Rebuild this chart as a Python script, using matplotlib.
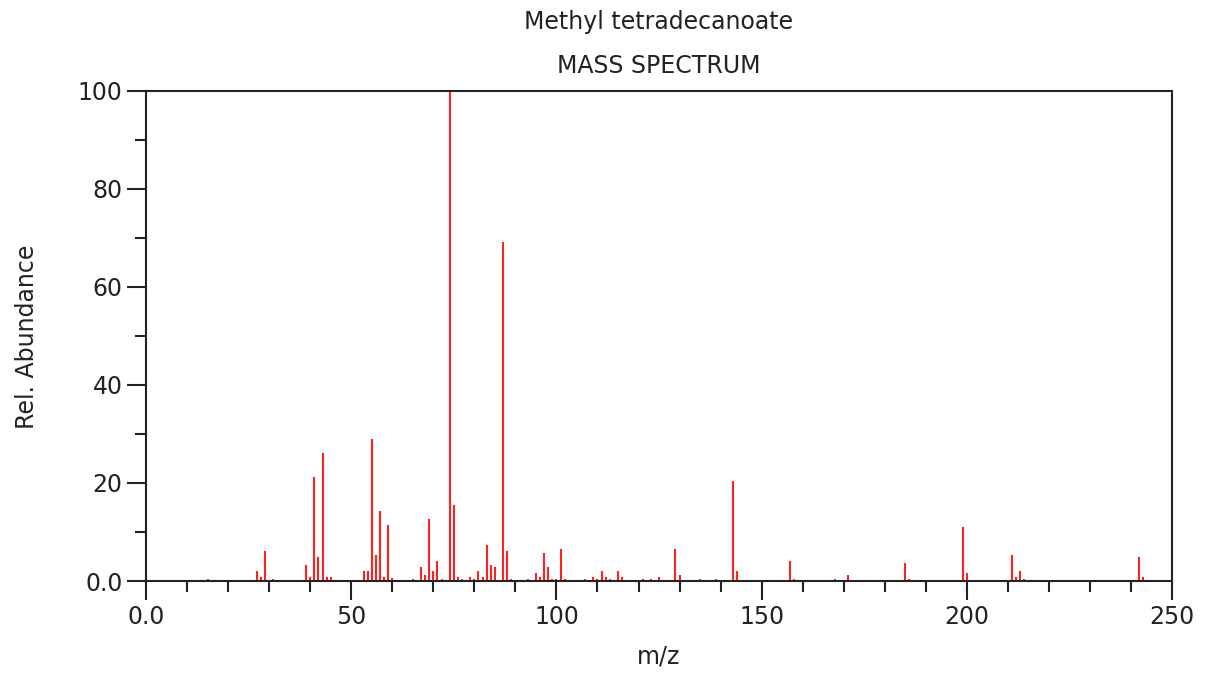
import matplotlib.pyplot as plt
from matplotlib.ticker import MultipleLocator, FuncFormatter

# m/z and relative abundance
mz = [15, 26, 27, 28, 29, 31, 33, 39, 40, 41, 42, 43, 44, 45, 51,
      53, 54, 55, 56, 57, 58, 59, 60, 65, 66, 67, 68, 69, 70, 71, 72,
      74, 75, 76, 77, 78, 79, 80, 81, 82, 83, 84, 85, 87, 88, 89,
      91, 93, 94, 95, 96, 97, 98, 99, 100, 101, 102, 103,
      107, 108, 109, 110, 111, 112, 113, 114, 115, 116, 117,
      121, 122, 123, 124, 125, 126, 127, 129, 130, 131,
      135, 137, 138, 139, 140, 141, 143, 144, 145, 149, 153, 154,
      157, 158, 163, 166, 167, 168, 169, 171, 172, 177, 181,
      185, 186, 187, 191, 192, 199, 200,
      209, 211, 212, 213, 214, 242, 243, 244]
abundance = [0.4, 0.2, 2.1, 0.9, 6.2, 0.5, 0.2, 3.3, 0.9, 21.3, 5.0, 26.2, 0.9, 0.9, 0.3,
             2.1, 2.1, 29.0, 5.4, 14.3, 0.9, 11.5, 0.6, 0.5, 0.2, 2.9, 1.3, 12.7, 2.1, 4.1, 0.5,
             100.0, 15.6, 0.9, 0.5, 0.2, 0.9, 0.5, 2.1, 0.9, 7.4, 3.3, 2.8, 69.2, 6.2, 0.5,
             0.2, 0.5, 0.2, 1.7, 0.9, 5.8, 2.9, 0.5, 0.5, 6.6, 0.5, 0.2,
             0.5, 0.2, 0.9, 0.5, 2.1, 0.9, 0.5, 0.2, 2.1, 0.9, 0.2,
             0.5, 0.2, 0.5, 0.2, 0.9, 0.2, 0.2, 6.6, 1.3, 0.2,
             0.5, 0.2, 0.2, 0.5, 0.2, 0.2, 20.5, 2.1, 0.2, 0.2, 0.2, 0.2,
             4.1, 0.5, 0.2, 0.2, 0.2, 0.5, 0.2, 1.3, 0.2, 0.2, 0.2,
             3.7, 0.5, 0.2, 0.2, 0.2, 11.1, 1.7,
             0.2, 5.4, 0.9, 2.1, 0.5, 5.0, 0.9, 0.2]

txt = '#222222'
fs = 17

fig = plt.figure(figsize=(12.13, 6.73), dpi=100)
ax = fig.add_axes([0.1204, 0.1367, 0.8458, 0.7281])

ax.vlines(mz, 0, abundance, color='#ff2020', linewidth=1.5)

ax.set_xlim(0, 250)
ax.set_ylim(0, 100)

ax.xaxis.set_major_locator(MultipleLocator(50))
ax.xaxis.set_minor_locator(MultipleLocator(10))
ax.yaxis.set_major_locator(MultipleLocator(20))
ax.yaxis.set_minor_locator(MultipleLocator(10))
fmt = FuncFormatter(lambda v, p: '0.0' if v == 0 else '%d' % v)
ax.xaxis.set_major_formatter(fmt)
ax.yaxis.set_major_formatter(fmt)

ax.tick_params(which='major', direction='out', length=14, width=1.5, labelsize=fs,
               colors=txt, pad=3)
ax.tick_params(which='minor', direction='out', length=8, width=1.5, colors=txt)
for s in ax.spines.values():
    s.set_linewidth(1.5)
    s.set_color(txt)

fig.text(0.5433, 0.0238, 'm/z', fontsize=fs, color=txt, ha='center', va='center')
fig.text(0.0223, 0.5, 'Rel. Abundance', fontsize=fs, color=txt, ha='center', va='center',
         rotation=90)
fig.text(0.5433, 0.967, 'Methyl tetradecanoate', fontsize=fs, color=txt, ha='center', va='center')
fig.text(0.5433, 0.902, 'MASS SPECTRUM', fontsize=fs, color=txt, ha='center', va='center')

fig.savefig('out.png', dpi=100)
